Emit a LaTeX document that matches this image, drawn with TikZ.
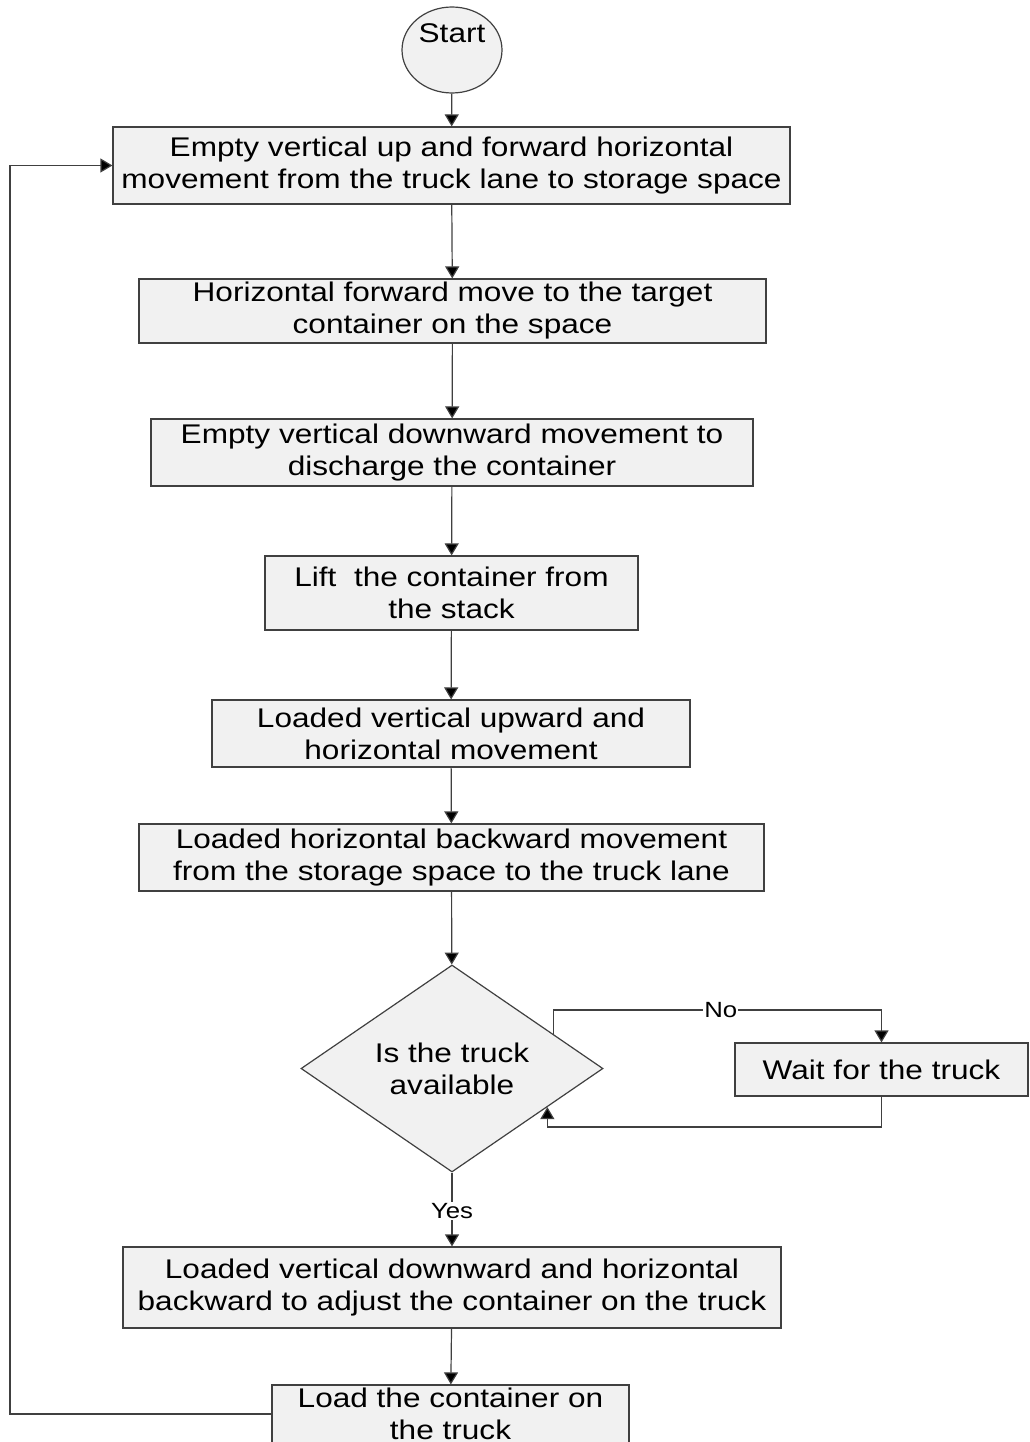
\documentclass[tikz,border=0pt]{standalone}
\usepackage{fontspec}
\setmainfont{Liberation Sans}[FakeStretch=1.17]
\usetikzlibrary{arrows.meta,shapes.geometric,calc}
\definecolor{boxfill}{RGB}{241,241,241}
\definecolor{edge}{RGB}{64,64,64}
\begin{document}
\begin{tikzpicture}[x=1pt,y=1pt,
  every node/.style={font=\fontsize{27}{32}\selectfont},
  stepbox/.style={draw=edge,fill=boxfill,line width=1.2pt,rectangle,align=center,
    inner xsep=4pt,inner ysep=0pt},
  decision/.style={draw=edge,fill=boxfill,line width=1.2pt,diamond,align=center,inner sep=0pt},
  terminal/.style={draw=edge,fill=boxfill,line width=1.2pt,ellipse,inner sep=0pt},
  arr/.style={draw=black!75,line width=1.2pt,-{Triangle[length=12pt,width=14pt,fill=black]}},
  lbl/.style={fill=white,inner sep=1pt,font=\fontsize{22}{26}\selectfont}]
\useasboundingbox (0,0) rectangle (1029,-1442);
\clip (0,0) rectangle (1029,-1442);

% terminal
\node[terminal,minimum width=100pt,minimum height=86pt] (start) at (452,-50) {};
\node (starttext) at (452,-33) {Start};

% process steps
\node[stepbox,minimum width=677pt,minimum height=77pt] (b1) at (451.5,-165.5)
  {Empty vertical up and forward horizontal\\movement from the truck lane to storage space};
\node[stepbox,minimum width=627pt,minimum height=64pt] (b2) at (452.5,-311)
  {Horizontal forward move to the target\\container on the space};
\node[stepbox,minimum width=602pt,minimum height=67pt] (b3) at (452,-452.5)
  {Empty vertical downward movement to\\discharge the container};
\node[stepbox,minimum width=373pt,minimum height=74pt] (b4) at (451.5,-593)
  {Lift\ \ the container from\\the stack};
\node[stepbox,minimum width=478pt,minimum height=67pt] (b5) at (451,-733.5)
  {Loaded vertical upward and\\horizontal movement};
\node[stepbox,minimum width=625pt,minimum height=67pt] (b6) at (451.5,-857.5)
  {Loaded horizontal backward movement\\from the storage space to the truck lane};
\node[decision,minimum width=302pt,minimum height=207pt] (dia) at (452,-1068.5)
  {Is the truck\\available};
\node[stepbox,minimum width=293pt,minimum height=53pt] (wait) at (881.5,-1069.5)
  {Wait for the truck};
\node[stepbox,minimum width=658pt,minimum height=81pt] (b7) at (452,-1287.5)
  {Loaded vertical downward and horizontal\\backward to adjust the container on the truck};
\node[stepbox,minimum width=357pt,minimum height=58pt] (b8) at (450.5,-1414)
  {Load the container on\\the truck};

% helper coordinates for the routed connectors
\coordinate (dNo) at ($(dia.east)!0.331!(dia.north)$);
\coordinate (dRet) at ($(dia.east)!0.371!(dia.south)$);
\coordinate (noY) at (0,-1010);
\coordinate (retY) at (0,-1127);
\coordinate (loopX) at (10,0);

% main flow
\draw[arr] (start) -- (b1);
\draw[arr] (b1) -- (b2);
\draw[arr] (b2) -- (b3);
\draw[arr] (b3) -- (b4);
\draw[arr] (b4) -- (b5);
\draw[arr] (b5) -- (b6);
\draw[arr] (b6) -- (dia);
\draw[arr] (dia) -- node[lbl,pos=0.52]{Yes} (b7);
\draw[arr] (b7) -- (b8);

% waiting loop
\draw[arr] (dNo) -- (dNo |- noY) -| node[lbl,pos=0.255]{No} (wait.north);
\draw[arr] (wait.south) -- (wait.south |- retY) -| (dRet);

% return to the first step
\draw[arr] (b8.west) -- (b8.west -| loopX) -- (loopX |- b1.west) -- (b1.west);
\end{tikzpicture}
\end{document}
